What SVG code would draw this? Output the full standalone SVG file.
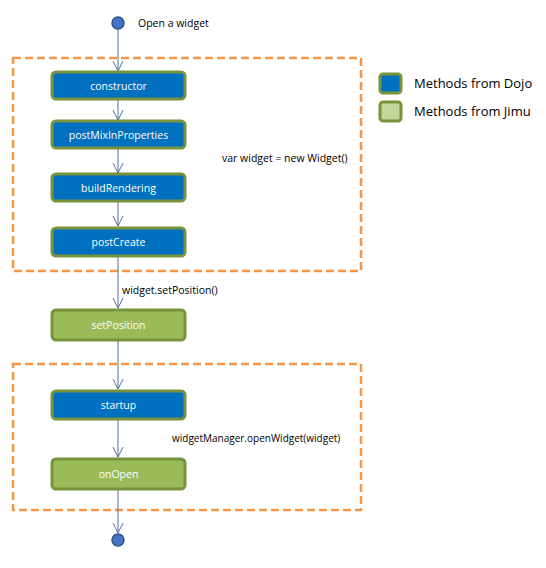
<svg xmlns="http://www.w3.org/2000/svg" width="546" height="568" viewBox="0 0 546 568">
<defs>
<style>
.frame{fill:none;stroke:#F79646;stroke-width:2.5;stroke-dasharray:8,4}
.dojo{fill:#0070C0;stroke:#77933C;stroke-width:3}
.jimu{fill:#9BBB59;stroke:#77933C;stroke-width:3}
.nt{font-family:"Open Sans","Noto Sans",sans-serif;font-size:10.5px;fill:#fff;text-anchor:middle}
.lbl{font-family:"Open Sans","Noto Sans",sans-serif;font-size:10.5px;fill:#000}
.lg{font-family:"Open Sans","Noto Sans",sans-serif;font-size:13px;fill:#000}
.edge{fill:none;stroke:#4F6F9A;stroke-width:1;marker-end:url(#arr)}
.term{fill:#4472C4;stroke:#2F528F;stroke-width:1.5}
</style>
<marker id="arr" viewBox="0 0 12 12" refX="11" refY="6" markerWidth="12" markerHeight="12" markerUnits="userSpaceOnUse" orient="auto">
<path d="M1,1 L11,6 L1,11" fill="none" stroke="#4F6F9A" stroke-width="1"/>
</marker>
</defs>
<rect width="546" height="568" fill="#fff"/>
<g id="frames">
<rect class="frame" x="13" y="58" width="348" height="213"/>
<rect class="frame" x="13" y="364" width="348" height="146"/>
</g>
<g id="connectors">
<line class="edge" x1="118" y1="29" x2="118" y2="71"/>
<line class="edge" x1="118" y1="99" x2="118" y2="120"/>
<line class="edge" x1="118" y1="148" x2="118" y2="173"/>
<line class="edge" x1="118" y1="201" x2="118" y2="226"/>
<line class="edge" x1="118" y1="256" x2="118" y2="308"/>
<line class="edge" x1="118" y1="341" x2="118" y2="389"/>
<line class="edge" x1="118" y1="419" x2="118" y2="457"/>
<line class="edge" x1="118" y1="490" x2="118" y2="533"/>
</g>
<g id="start"><circle class="term" cx="118" cy="23" r="6"/></g>
<g id="end"><circle class="term" cx="118" cy="540" r="6"/></g>
<g id="constructor"><rect class="dojo" x="52" y="72" width="133" height="27" rx="4"/><text class="nt" x="118.5" y="89.5">constructor</text></g>
<g id="postMixInProperties"><rect class="dojo" x="52" y="121" width="133" height="27" rx="4"/><text class="nt" x="118.5" y="138.5">postMixInProperties</text></g>
<g id="buildRendering"><rect class="dojo" x="52" y="174" width="133" height="27" rx="4"/><text class="nt" x="118.5" y="191.5">buildRendering</text></g>
<g id="postCreate"><rect class="dojo" x="52" y="228" width="133" height="28" rx="4"/><text class="nt" x="118.5" y="245.5">postCreate</text></g>
<g id="setPosition"><rect class="jimu" x="52" y="310" width="133" height="30" rx="4"/><text class="nt" x="118.5" y="328.5">setPosition</text></g>
<g id="startup"><rect class="dojo" x="52" y="391" width="133" height="28" rx="4"/><text class="nt" x="118.5" y="408.5">startup</text></g>
<g id="onOpen"><rect class="jimu" x="52" y="459" width="133" height="30" rx="4"/><text class="nt" x="118.5" y="477.5">onOpen</text></g>
<g id="labels">
<text class="lbl" x="138" y="27">Open a widget</text>
<text class="lbl" x="222" y="162">var widget = new Widget()</text>
<text class="lbl" x="122" y="294">widget.setPosition()</text>
<text class="lbl" x="172" y="442" style="font-size:10px">widgetManager.openWidget(widget)</text>
</g>
<g id="legend">
<rect class="dojo" x="380" y="74" width="21" height="19" rx="3"/>
<text class="lg" x="414" y="88">Methods from Dojo</text>
<rect class="jimu" x="380" y="102" width="21" height="19" rx="3" style="fill:#C3D69B"/>
<text class="lg" x="414" y="116">Methods from Jimu</text>
</g>
</svg>
